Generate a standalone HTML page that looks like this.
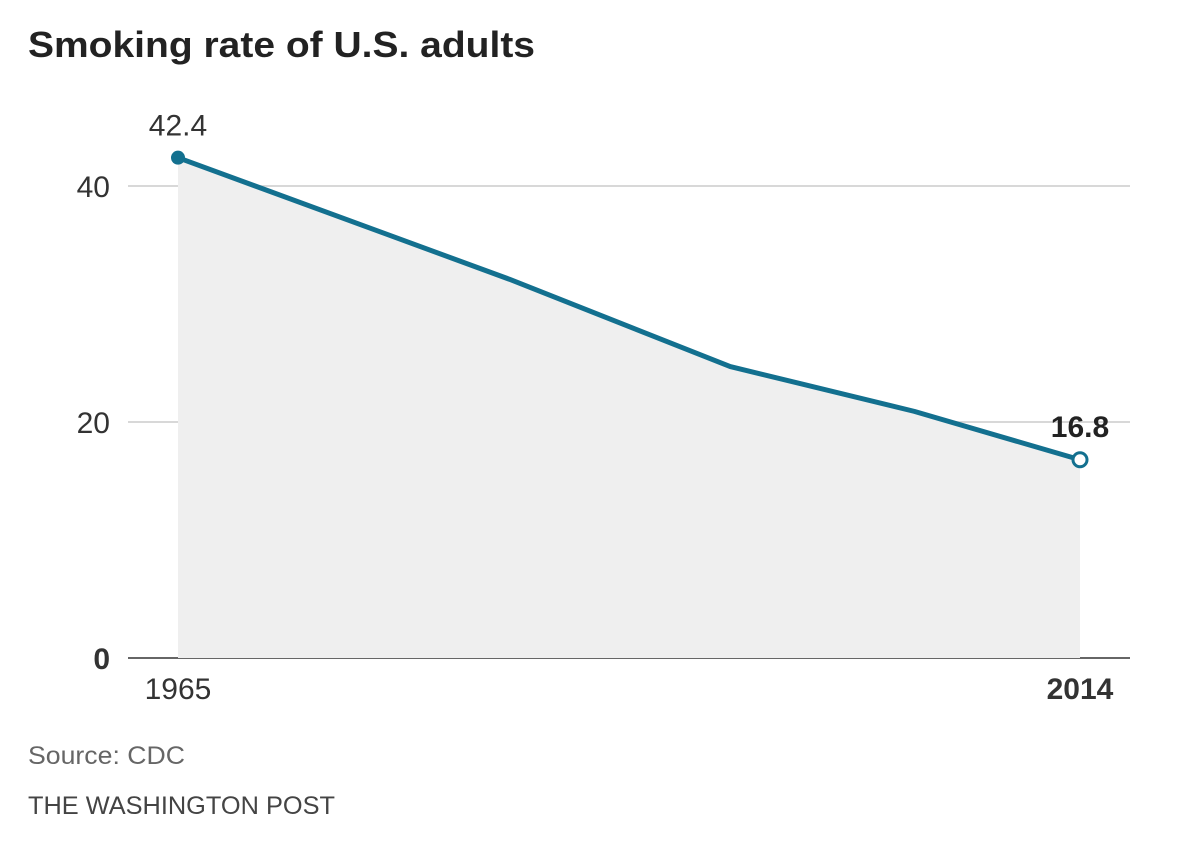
<!DOCTYPE html>
<html><head><meta charset="utf-8"><style>
body{margin:0;background:#fff;width:1200px;height:854px;overflow:hidden;font-family:"Liberation Sans",sans-serif}
</style></head><body>
<svg width="1200" height="854">
<text x="28" y="57" font-size="36" font-weight="bold" fill="#222" textLength="507" lengthAdjust="spacingAndGlyphs">Smoking rate of U.S. adults</text>
<g id="grid"></g><g id="plot"></g>
<text x="28" y="764" font-size="25" fill="#666" textLength="157" lengthAdjust="spacingAndGlyphs">Source: CDC</text>
<text x="28" y="814" font-size="25" fill="#444" textLength="307" lengthAdjust="spacingAndGlyphs">THE WASHINGTON POST</text>
</svg>
<script>
const years=[1965,1983,1995,2005,2014];
const rates=[42.4,32.1,24.7,20.9,16.8];
const yTicks=[0,20,40];
const xLabels=[1965,2014];
const ns="http://www.w3.org/2000/svg";
const X=v=>178+(v-1965)*(902/49), Y=v=>658-v*11.8;
function mk(t,a,p){const e=document.createElementNS(ns,t);for(const k in a)e.setAttribute(k,a[k]);p.appendChild(e);return e;}
const g=document.getElementById('grid'),p=document.getElementById('plot');
yTicks.forEach(t=>{
 const l=mk('line',{x1:128,x2:1130,y1:Y(t),y2:Y(t),stroke:t==0?'#666':'#ccc','stroke-width':t==0?2:1.5},g);
 
 
 const tx=mk('text',{x:110,y:Y(t)+11,'text-anchor':'end','font-size':30,fill:'#333','font-weight':t==0?'bold':'normal'},g);
 tx.textContent=t;
 
 
});
xLabels.forEach((yr,i)=>{
 const tx=mk('text',{x:X(yr),y:699,'text-anchor':'middle','font-size':30,fill:'#333','font-weight':i==1?'bold':'normal'},g);
 tx.textContent=yr;
 
 
});
const pts=years.map((y,i)=>X(y)+','+Y(rates[i])).join(' ');
const area=mk('polygon',{points:X(years[0])+','+Y(0)+' '+pts+' '+X(years[years.length-1])+','+Y(0),fill:'#efefef'},p);


const line=mk('polyline',{points:pts,fill:'none',stroke:'#13708f','stroke-width':5,'stroke-linejoin':'round'},p);


const n=years.length-1;
const c1=mk('circle',{cx:X(years[0]),cy:Y(rates[0]),r:7,fill:'#13708f'},p);


const c2=mk('circle',{cx:X(years[n]),cy:Y(rates[n]),r:7,fill:'#fff',stroke:'#13708f','stroke-width':3},p);


const l1=mk('text',{x:X(years[0]),y:Y(rates[0])-22,'text-anchor':'middle','font-size':30,fill:'#333'},p);
l1.textContent=rates[0];


const l2=mk('text',{x:X(years[n]),y:Y(rates[n])-23,'text-anchor':'middle','font-size':30,'font-weight':'bold',fill:'#222'},p);
l2.textContent=rates[n];


</script>
</body></html>
